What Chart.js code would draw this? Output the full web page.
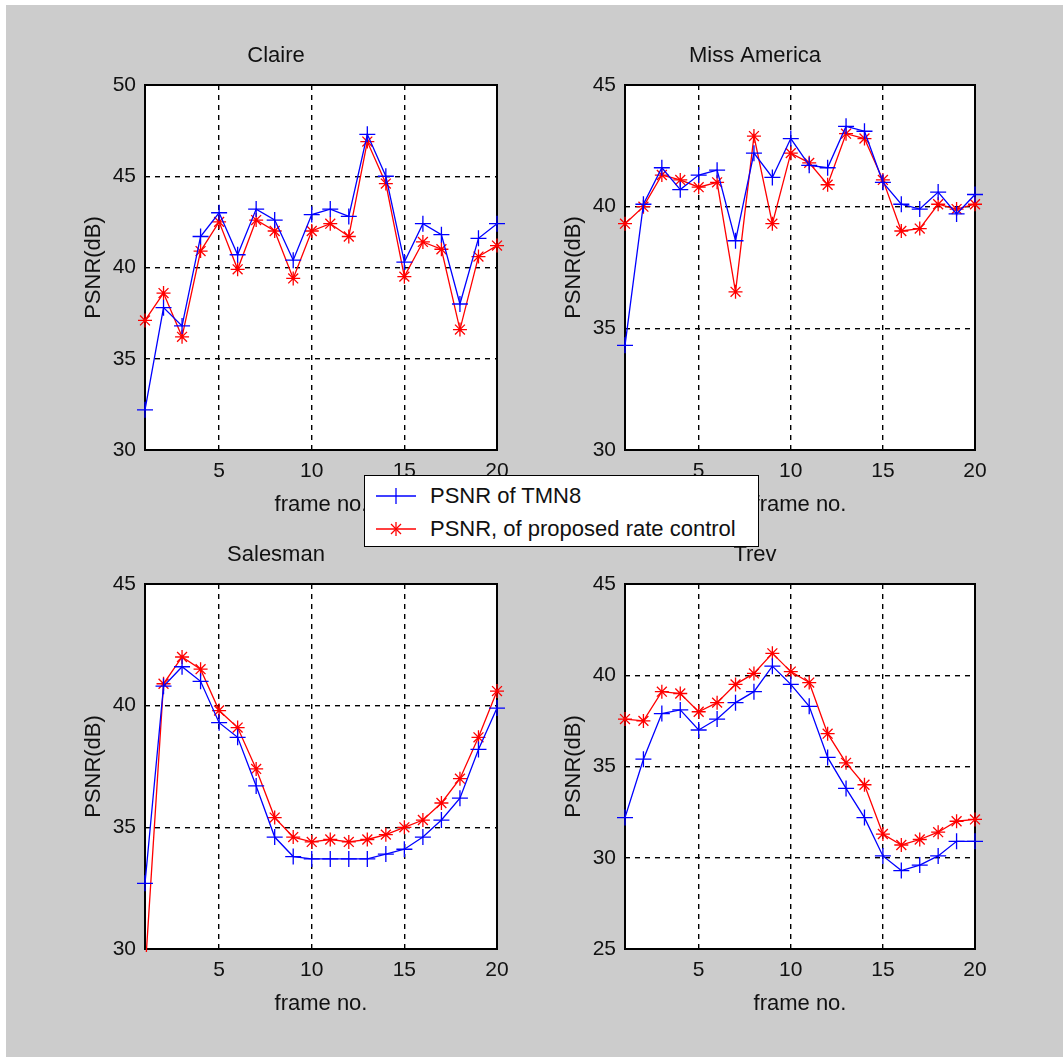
<!DOCTYPE html>
<html>
<head>
<meta charset="utf-8">
<script src="https://cdn.jsdelivr.net/npm/chart.js@4.4.1/dist/chart.umd.min.js"></script>
<style>
  body { margin: 0; background: #fff; width: 1063px; height: 1057px; overflow: hidden; }
  #fondo { position: absolute; left: 6px; top: 5px; right: 0; bottom: 0; background: #cccccc; }
  .panel { position: absolute; }
  #leyenda {
    position: absolute; left: 364px; top: 475px; width: 393px; height: 70px;
    background: #fff; border: 1.5px solid #000; z-index: 5;
    font-family: "Liberation Sans", Arial, sans-serif; font-size: 22px; color: #111;
  }
  #leyenda .fila { position: absolute; left: 0; height: 26px; line-height: 26px; white-space: nowrap; }
  #leyenda svg { position: absolute; left: 11px; top: 0; }
  #leyenda span { position: absolute; left: 65px; top: 0; }
</style>
</head>
<body>
<div id="fondo"></div>
<canvas id="claire" class="panel" width="470" height="495" style="left:55px;top:30px"></canvas>
<canvas id="miss" class="panel" width="470" height="495" style="left:535px;top:30px"></canvas>
<canvas id="salesman" class="panel" width="470" height="495" style="left:55px;top:529px"></canvas>
<canvas id="trev" class="panel" width="470" height="495" style="left:535px;top:529px"></canvas>

<div id="leyenda">
  <div class="fila" style="top:7px">
    <svg width="42" height="26"><line x1="0" y1="13" x2="40" y2="13" stroke="#0000ff" stroke-width="1.3"/><line x1="20" y1="5" x2="20" y2="21" stroke="#0000ff" stroke-width="1.3"/></svg>
    <span id="nombreA"></span>
  </div>
  <div class="fila" style="top:40px">
    <svg width="42" height="26"><line x1="0" y1="13" x2="40" y2="13" stroke="#ff0000" stroke-width="1.3"/><line x1="20" y1="6" x2="20" y2="20" stroke="#ff0000" stroke-width="1.3"/><line x1="15" y1="8" x2="25" y2="18" stroke="#ff0000" stroke-width="1.3"/><line x1="25" y1="8" x2="15" y2="18" stroke="#ff0000" stroke-width="1.3"/></svg>
    <span id="nombreB"></span>
  </div>
</div>

<script>
// datos (PSNR en dB por cuadro)
const frames = [1, 2, 3, 4, 5, 6, 7, 8, 9, 10, 11, 12, 13, 14, 15, 16, 17, 18, 19, 20];
const xTicks = [5, 10, 15, 20];
const serieA = "PSNR of TMN8";
const serieB = "PSNR, of proposed rate control";

const claireTMN8 = [32.2, 37.8, 36.8, 41.7, 43.0, 40.7, 43.2, 42.6, 40.4, 42.9, 43.2, 42.8, 47.3, 45.0, 40.3, 42.4, 41.8, 38.0, 41.6, 42.4];
const claireProp = [37.1, 38.6, 36.2, 40.9, 42.5, 39.9, 42.6, 42.0, 39.4, 42.0, 42.4, 41.7, 46.9, 44.6, 39.5, 41.4, 41.0, 36.6, 40.6, 41.2];

const missTMN8 = [34.3, 40.1, 41.6, 40.7, 41.3, 41.5, 38.6, 42.2, 41.2, 42.8, 41.7, 41.6, 43.3, 43.1, 41.0, 40.1, 39.9, 40.6, 39.7, 40.5];
const missProp = [39.3, 40.0, 41.3, 41.1, 40.8, 41.0, 36.5, 42.9, 39.3, 42.2, 41.8, 40.9, 43.0, 42.8, 41.1, 39.0, 39.1, 40.1, 39.9, 40.1];

const salesTMN8 = [32.7, 40.8, 41.6, 41.0, 39.3, 38.7, 36.7, 34.6, 33.8, 33.7, 33.7, 33.7, 33.7, 33.9, 34.1, 34.6, 35.3, 36.2, 38.2, 39.9];
const salesProp = [29.0, 40.9, 42.0, 41.5, 39.8, 39.1, 37.4, 35.4, 34.6, 34.4, 34.5, 34.4, 34.5, 34.7, 35.0, 35.3, 36.0, 37.0, 38.7, 40.6];

const trevTMN8 = [32.2, 35.4, 37.9, 38.1, 37.0, 37.6, 38.5, 39.1, 40.5, 39.5, 38.3, 35.5, 33.8, 32.2, 30.1, 29.3, 29.6, 30.1, 30.9, 30.9];
const trevProp = [37.6, 37.5, 39.1, 39.0, 38.0, 38.5, 39.5, 40.1, 41.2, 40.2, 39.6, 36.8, 35.2, 34.0, 31.3, 30.7, 31.0, 31.4, 32.0, 32.1];

document.getElementById("nombreA").textContent = serieA;
document.getElementById("nombreB").textContent = serieB;

const fuente = '"Liberation Sans", Arial, sans-serif';
Chart.defaults.font.family = fuente;
Chart.defaults.color = "#111";

// fondo blanco y recuadro negro del area de trazado
const marco = {
  id: "marco",
  beforeDraw(chart) {
    const { ctx, chartArea: a } = chart;
    ctx.save();
    ctx.fillStyle = "#fff";
    ctx.fillRect(a.left, a.top, a.right - a.left, a.bottom - a.top);
    ctx.restore();
  },
  beforeDatasetsDraw(chart) {
    const { ctx, chartArea: a } = chart;
    ctx.save();
    ctx.strokeStyle = "#000";
    ctx.lineWidth = 2;
    ctx.strokeRect(a.left, a.top, a.right - a.left, a.bottom - a.top);
    ctx.restore();
  }
};

function puntos(valores) {
  return frames.map((f, i) => ({ x: f, y: valores[i] }));
}

// los marcadores en los bordes no se recortan, salvo por debajo del eje
const recorte = { left: 14, right: 14, top: 14, bottom: 3 };

function crearPanel(id, titulo, tmn8, prop, yMin, yMax, padDer) {
  const ctx = document.getElementById(id).getContext("2d");
  return new Chart(ctx, {
    type: "line",
    data: {
      datasets: [{
        label: serieA,
        data: puntos(tmn8),
        borderColor: "#0000ff",
        borderWidth: 1.3,
        pointStyle: "cross",
        pointRadius: 8,
        pointBorderWidth: 1.3,
        pointBorderColor: "#0000ff",
        pointBackgroundColor: "#0000ff",
        tension: 0,
        clip: recorte
      }, {
        label: serieB,
        data: puntos(prop),
        borderColor: "#ff0000",
        borderWidth: 1.3,
        pointStyle: "star",
        pointRadius: 7,
        pointBorderWidth: 1.3,
        pointBorderColor: "#ff0000",
        pointBackgroundColor: "#ff0000",
        tension: 0,
        clip: recorte
      }]
    },
    options: {
      responsive: false,
      animation: false,
      devicePixelRatio: 1,
      layout: { padding: { left: 0, right: padDer, top: 0, bottom: 0 } },
      plugins: {
        legend: { display: false },
        tooltip: { enabled: false },
        title: {
          display: true,
          text: titulo,
          color: "#111",
          font: { size: 22, weight: "normal", lineHeight: 1.2 },
          padding: { top: 12.4, bottom: 16.2 }
        }
      },
      scales: {
        x: {
          type: "linear",
          min: 1,
          max: 20,
          afterBuildTicks: (s) => { s.ticks = xTicks.map(v => ({ value: v })); },
          afterFit: (s) => { s.height = 75; },
          grid: { color: "#000", lineWidth: 1.4, drawTicks: false },
          border: { display: false, dash: [5, 5] },
          ticks: { color: "#111", font: { size: 21 }, padding: 8.4, maxRotation: 0 },
          title: { display: true, text: "frame no.", color: "#111", font: { size: 22, lineHeight: 1.2 }, padding: { top: 0, bottom: 6.8 } }
        },
        y: {
          min: yMin,
          max: yMax,
          afterFit: (s) => { s.width = 90; },
          grid: { color: "#000", lineWidth: 1.4, drawTicks: false },
          border: { display: false, dash: [5, 5] },
          ticks: { stepSize: 5, color: "#111", font: { size: 21 }, padding: 9 },
          title: { display: true, text: "PSNR(dB)", color: "#111", font: { size: 22, lineHeight: 1.2 }, padding: { top: 25.8, bottom: 0 } }
        }
      }
    },
    plugins: [marco]
  });
}

crearPanel("claire", "Claire", claireTMN8, claireProp, 30, 50, 28);
crearPanel("miss", "Miss America", missTMN8, missProp, 30, 45, 30);
crearPanel("salesman", "Salesman", salesTMN8, salesProp, 30, 45, 28);
crearPanel("trev", "Trev", trevTMN8, trevProp, 25, 45, 30);
</script>
</body>
</html>
